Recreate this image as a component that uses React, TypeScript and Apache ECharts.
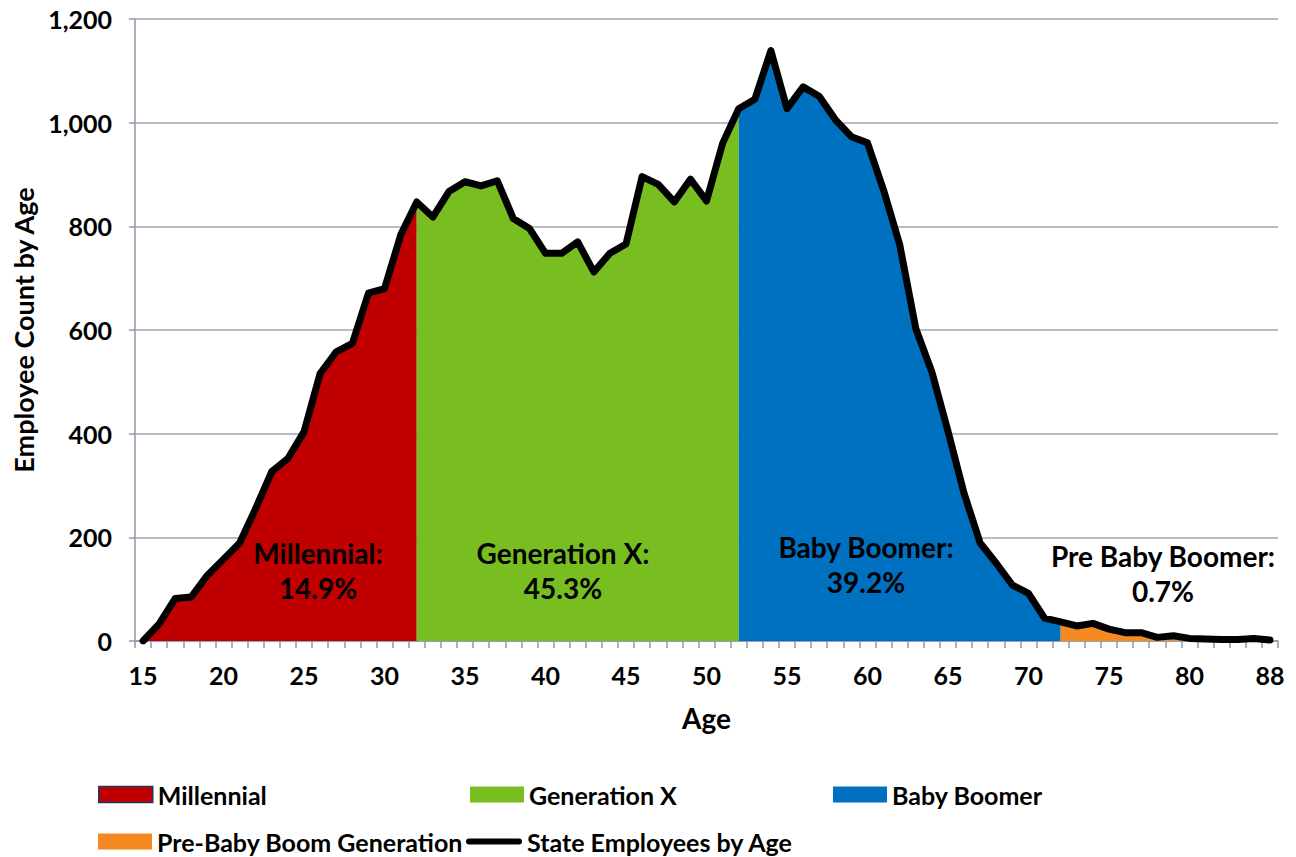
import React, { useEffect, useRef } from "react";
import * as echarts from "echarts";

const ages = [
  "15","16","17","18","19","20","21","22","23","24","25","26","27","28","29","30",
  "31","32","33","34","35","36","37","38","39","40","41","42","43","44","45","46",
  "47","48","49","50","51","52","53","54","55","56","57","58","59","60","61","62",
  "63","64","65","66","67","68","69","70","71","72","73","74","75","76","77","78",
  "79","80","81","82","83","84","88",
];

const employeesByAge = [
  0, 33, 82, 85, 127, 158, 189, 256, 327, 352, 404, 516, 558, 574, 671, 680,
  783, 847, 818, 867, 886, 878, 888, 815, 796, 748, 748, 770, 712, 748, 766, 896,
  881, 847, 891, 849, 960, 1027, 1045, 1139, 1027, 1069, 1051, 1006, 973, 961, 870, 765,
  603, 519, 405, 285, 189, 150, 108, 92, 44, 37, 29, 34, 23, 16, 16, 7,
  10, 5, 4, 3, 3, 5, 2,
];

// generation boundaries (first and last age of each band, boundaries shared)
const generationNames = ["Millennial", "Generation X", "Baby Boomer", "Pre-Baby Boom Generation"];
const generationStart = ["15", "32", "52", "72"];
const generationEnd = ["32", "52", "72", "88"];
const generationShares = ["14.9%", "45.3%", "39.2%", "0.7%"];
const generationLabels = ["Millennial:", "Generation X:", "Baby Boomer:", "Pre Baby Boomer:"];
const generationColors = ["#C00000", "#78BE20", "#0070C0", "#F58A23"];
const lineName = "State Employees by Age";

const yTicks = [0, 200, 400, 600, 800, 1000, 1200];

const FONT = "Lato, 'Open Sans', sans-serif";

function bandValues(start: string, end: string) {
  const s = ages.indexOf(start);
  const e = ages.indexOf(end);
  return employeesByAge.map((v, i) => (i >= s && i <= e ? v : null));
}

export default function App() {
  const ref = useRef<HTMLDivElement>(null);
  useEffect(() => {
    if (!ref.current) return;
    const chart = echarts.init(ref.current, null, { renderer: "svg" });

    const areaSeries = generationNames.map((name, k) => ({
      name,
      type: "line",
      data: bandValues(generationStart[k], generationEnd[k]),
      showSymbol: false,
      symbol: "none",
      connectNulls: false,
      lineStyle: { width: 0, color: generationColors[k] },
      itemStyle: { color: generationColors[k] },
      areaStyle: { color: generationColors[k], opacity: 1 },
      z: 2,
    }));

    const legendPos = [
      { left: 98, top: 782 },
      { left: 470, top: 782 },
      { left: 833, top: 782 },
      { left: 98, top: 829 },
    ];

    const legendText = { fontFamily: FONT, fontWeight: "bold", fontSize: 25, color: "#000" };

    const legends: any[] = generationNames.map((name, k) => ({
      show: true,
      left: legendPos[k].left,
      top: legendPos[k].top,
      padding: 0,
      data: [{ name, icon: "rect" }],
      itemWidth: 54,
      itemHeight: 16,
      itemGap: 0,
      selectedMode: false,
      textStyle: legendText,
      itemStyle: k === 0 ? { borderColor: "#1F3864", borderWidth: 1.5 } : {},
    }));
    legends.push({
      show: true,
      left: 466,
      top: 829,
      padding: 0,
      data: [{ name: lineName, icon: "path://M3,0 L53,0 A3,3 0 0 1 53,6 L3,6 A3,3 0 0 1 3,0 Z" }],
      itemWidth: 56,
      itemHeight: 7,
      selectedMode: false,
      textStyle: legendText,
      itemStyle: { color: "#000" },
    });

    const labelX = [318, 563, 866, 1163];
    const labelY = [553, 553, 547, 556];
    const graphics: any[] = [];
    generationLabels.forEach((t, k) => {
      graphics.push({
        type: "text",
        x: labelX[k],
        y: labelY[k] + 17,
        style: {
          text: t + "\n" + generationShares[k],
          fontFamily: FONT,
          fontWeight: "bold",
          fontSize: 28,
          lineHeight: 35,
          fill: "#000",
          align: "center",
          verticalAlign: "middle",
        },
        z: 100,
      });
    });

    chart.setOption({
      animation: false,
      backgroundColor: "#fff",
      grid: { left: 135, right: 18, top: 19, bottom: 216, containLabel: false },
      legend: legends,
      xAxis: {
        type: "category",
        data: ages,
        boundaryGap: true,
        name: "Age",
        nameLocation: "middle",
        nameGap: 63,
        nameTextStyle: { fontFamily: FONT, fontWeight: "bold", fontSize: 28, color: "#000" },
        axisLine: { lineStyle: { color: "#8E98AB", width: 1.5 } },
        axisTick: { show: true, interval: 0, length: 7, lineStyle: { color: "#8E98AB", width: 1.5 } },
        axisLabel: {
          interval: 4,
          margin: 21,
          fontFamily: FONT,
          fontWeight: "bold",
          fontSize: 25,
          color: "#000",
        },
        splitLine: { show: false },
      },
      yAxis: {
        type: "value",
        min: yTicks[0],
        max: yTicks[yTicks.length - 1],
        interval: 200,
        name: "Employee Count by Age",
        nameLocation: "middle",
        nameGap: 98,
        nameTextStyle: { fontFamily: FONT, fontWeight: "bold", fontSize: 27, color: "#000" },
        axisLine: { show: true, lineStyle: { color: "#8E98AB", width: 1.5 } },
        axisTick: { show: true, length: 6, lineStyle: { color: "#8E98AB", width: 1.5 } },
        axisLabel: {
          margin: 23,
          fontFamily: FONT,
          fontWeight: "bold",
          fontSize: 25,
          color: "#000",
          formatter: (v: number) => v.toLocaleString("en-US"),
        },
        splitLine: { show: true, lineStyle: { color: "#A0A6B6", width: 1.5 } },
      },
      series: [
        ...areaSeries,
        {
          name: lineName,
          type: "line",
          data: employeesByAge,
          showSymbol: false,
          symbol: "none",
          lineStyle: { color: "#000", width: 7, join: "round", cap: "round" },
          itemStyle: { color: "#000" },
          z: 5,
        },
      ],
      graphic: graphics,
    });

    return () => chart.dispose();
  }, []);

  return (
    <div
      ref={ref}
      style={{ position: "fixed", left: 0, top: 0, width: 1296, height: 857 }}
    />
  );
}
